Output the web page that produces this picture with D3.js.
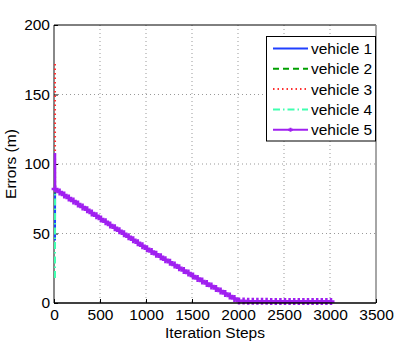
<!DOCTYPE html>
<html>
<head>
<meta charset="utf-8">
<script src="https://cdn.jsdelivr.net/npm/d3@7"></script>
<style>
  body { margin: 0; background: #fff; }
  svg text { font-family: "Liberation Sans", Arial, sans-serif; }
</style>
</head>
<body>
<div id="chart"></div>
<script>
var names = ["vehicle 1", "vehicle 2", "vehicle 3", "vehicle 4", "vehicle 5"];
var colors = ["#2040ff", "#00a000", "#ff3030", "#40ffb0", "#a020f0"];
var dashes = [null, "6,4", "1.5,3", "7,3,1.5,3", null];

// error of each vehicle at step 0
var startErrors = [45, 79, 172, 18, 108];

// shared error at steps 1, 50, 100 ... 2000
var descentErrors = [82, 79.9, 77.7, 75.6, 73.4, 71.3, 69.1, 67, 64.8, 62.7, 60.5,
  58.4, 56.2, 54.1, 51.9, 49.8, 47.6, 45.5, 43.3, 41.2, 39,
  37.1, 35.1, 33.2, 31.2, 29.3, 27.3, 25.4, 23.4, 21.5, 19.5,
  17.7, 15.9, 14.1, 12.3, 10.5, 8.7, 6.9, 5.1, 3.3, 1.5];

// error at steps 2050, 2100 ... 3000
var tailErrors = [1.4, 1.3, 1.3, 1.2, 1.2, 1.2, 1.1, 1.1, 1.1, 1.1,
  1.0, 1.0, 1.0, 1.0, 1.0, 1.0, 1.0, 1.0, 1.0, 1.0];

var xTicks = [0, 500, 1000, 1500, 2000, 2500, 3000, 3500];
var yTicks = [0, 50, 100, 150, 200];

var plusPath = "M-3.5,0H3.5M0,-3.5V3.5";

drawChart();

function buildSeries(i) {
  var pts = [{s: 0, v: startErrors[i]}];
  descentErrors.forEach(function(v, k) {
    pts.push({s: k == 0 ? 1 : k * 50, v: v});
  });
  tailErrors.forEach(function(v, k) {
    pts.push({s: 2050 + k * 50, v: v});
  });
  return pts;
}

function drawChart() {
  var width = 415, height = 343;
  var left = 54, right = 376, top = 25, bottom = 303;
  var fs = 15.5;

  var svg = d3.select("#chart").append("svg")
    .attr("width", width)
    .attr("height", height);

  var x = d3.scaleLinear().domain([0, 3500]).range([left, right]);
  var y = d3.scaleLinear().domain([0, 200]).range([bottom, top]);

  // grid
  var grid = svg.append("g").attr("stroke", "#999").attr("stroke-dasharray", "1,3");
  xTicks.slice(1, -1).forEach(function(t) {
    grid.append("line").attr("x1", x(t)).attr("x2", x(t)).attr("y1", top).attr("y2", bottom);
  });
  yTicks.slice(1, -1).forEach(function(t) {
    grid.append("line").attr("x1", left).attr("x2", right).attr("y1", y(t)).attr("y2", y(t));
  });

  // frame
  svg.append("line").attr("x1", left).attr("x2", right).attr("y1", top).attr("y2", top).attr("stroke", "#000");
  svg.append("line").attr("x1", left).attr("x2", left).attr("y1", top).attr("y2", bottom).attr("stroke", "#888").attr("stroke-width", 2);
  svg.append("line").attr("x1", right).attr("x2", right).attr("y1", top).attr("y2", bottom).attr("stroke", "#888").attr("stroke-width", 1.5);

  // axes
  var xAxis = svg.append("g")
    .attr("transform", "translate(0," + bottom + ")")
    .call(d3.axisBottom(x).tickValues(xTicks).tickSize(-4).tickPadding(5).tickFormat(d3.format("d")));
  var yAxis = svg.append("g")
    .attr("transform", "translate(" + left + ",0)")
    .call(d3.axisLeft(y).tickValues(yTicks).tickSize(-4).tickPadding(4).tickFormat(d3.format("d")));
  [xAxis, yAxis].forEach(function(a) {
    a.select(".domain").remove();
    a.selectAll("text").attr("font-size", fs).attr("fill", "#000")
      .style("font-family", "'Liberation Sans', Arial, sans-serif");
    a.selectAll(".tick line").attr("stroke", "#000");
  });
  xAxis.selectAll("text").attr("dy", "0.75em");

  // lines
  var lines = svg.append("g");
  [0, 1, 2, 3, 4].forEach(function(i) {
    var data = buildSeries(i);
    var line = d3.line()
      .x(function(d) { return x(d.s) + 1; })
      .y(function(d) { return y(d.v); });
    lines.append("path")
      .datum(data)
      .attr("d", line)
      .attr("fill", "none")
      .attr("stroke", colors[i])
      .attr("stroke-width", i == 4 ? 2.5 : 2)
      .attr("stroke-dasharray", dashes[i]);
    if (i == 4) {
      lines.selectAll(".mk")
        .data(data.slice(1))
        .enter()
        .append("path")
        .attr("class", "mk")
        .attr("transform", function(d) { return "translate(" + (x(d.s) + 1) + "," + y(d.v) + ")"; })
        .attr("d", plusPath)
        .attr("fill", "none")
        .attr("stroke", colors[i])
        .attr("stroke-width", 2.5);
    }
  });

  // bottom axis line over the marks
  svg.append("line").attr("x1", left).attr("x2", right).attr("y1", bottom).attr("y2", bottom).attr("stroke", "#000").attr("stroke-width", 1.5);

  // labels
  svg.append("text")
    .attr("x", (left + right) / 2).attr("y", 338)
    .attr("text-anchor", "middle").attr("font-size", fs)
    .text("Iteration Steps");
  svg.append("text")
    .attr("transform", "translate(16," + ((top + bottom) / 2) + ") rotate(-90)")
    .attr("text-anchor", "middle").attr("font-size", fs)
    .text("Errors (m)");

  // legend
  var lg = svg.append("g");
  lg.append("rect")
    .attr("x", 266.5).attr("y", 36.5).attr("width", 109).attr("height", 104.5)
    .attr("fill", "#fff").attr("stroke", "#000");
  names.forEach(function(n, i) {
    var ly = 48.5 + i * 20.3;
    lg.append("line")
      .attr("x1", 273).attr("x2", 308).attr("y1", ly).attr("y2", ly)
      .attr("stroke", colors[i]).attr("stroke-width", 2)
      .attr("stroke-dasharray", dashes[i]);
    if (i == 4) {
      lg.append("path")
        .attr("transform", "translate(290.5," + ly + ")")
        .attr("d", "M-2.5,0H2.5M0,-2V2")
        .attr("fill", "none")
        .attr("stroke", colors[i])
        .attr("stroke-width", 2);
    }
    lg.append("text")
      .attr("x", 311).attr("y", ly).attr("dy", "0.36em")
      .attr("font-size", fs)
      .text(n);
  });
}
</script>
</body>
</html>
